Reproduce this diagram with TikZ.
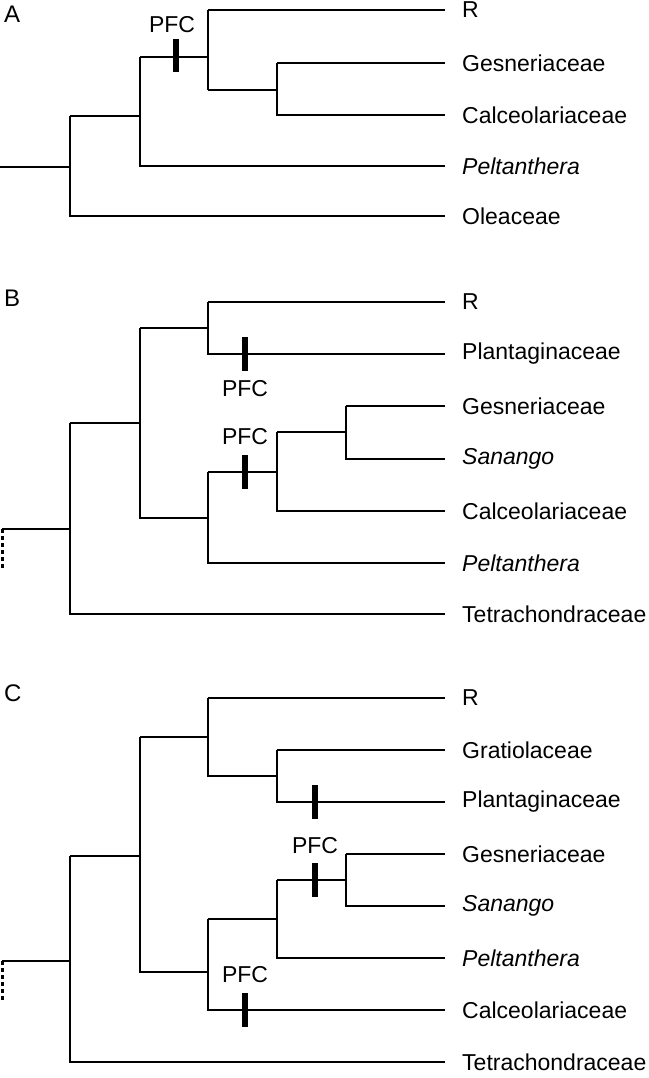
\documentclass[tikz,border=0pt]{standalone}
\usepackage{fontspec}
\setmainfont{Liberation Sans}
\begin{document}
\begin{tikzpicture}[x=1pt,y=-1pt,
  br/.style={line width=2pt},
  lab/.style={anchor=west,font=\fontsize{23}{25}\selectfont,inner sep=0pt},
  bar/.style={line width=6pt},
  pfc/.style={font=\fontsize{23}{25}\selectfont,inner sep=0pt},
  panel/.style={font=\fontsize{24}{26}\selectfont,anchor=north west,inner sep=0pt}]
\useasboundingbox (0,0) rectangle (648,1078);
% ---------- A
\node[panel] (pA) at (4,6) {A};
\foreach \n/\y/\t in {aR/10/R,aG/63/Gesneriaceae,aC/115/Calceolariaceae,aP/166/\textit{Peltanthera},aO/216/Oleaceae}
  \node[lab] (\n) at (462,\y) {\t};
\draw[br] (0,167)--(70,167);
\draw[br] (70,116)--(70,216)--(445,216);
\draw[br] (70,116)--(140,116);
\draw[br] (140,57)--(140,166)--(445,166);
\draw[br] (140,57)--(208,57);
\draw[br] (208,10)--(208,90);
\draw[br] (208,10)--(445,10);
\draw[br] (208,90)--(277,90);
\draw[br] (277,63)--(277,115)--(445,115);
\draw[br] (277,63)--(445,63);
\draw[bar] (176,39)--(176,72);
\node[pfc] (pfcA) at (172,25) {PFC};
% ---------- B
\node[panel] (pB) at (4,290) {B};
\foreach \n/\y/\t in {bR/302/R,bPl/354/Plantaginaceae,bG/406/Gesneriaceae,bS/459/\textit{Sanango},bC/511/Calceolariaceae,bP/563/\textit{Peltanthera},bT/614/Tetrachondraceae}
  \node[lab] (\n) at (462,\y) {\t};
\draw[br] (2,529)--(70,529);
\draw[line width=3pt,dash pattern=on 4pt off 3pt] (2.5,529)--(2.5,568);
\draw[br] (70,423)--(70,614)--(445,614);
\draw[br] (70,423)--(140,423);
\draw[br] (140,328)--(140,518)--(208,518);
\draw[br] (140,328)--(208,328);
\draw[br] (208,302)--(208,354)--(445,354);
\draw[br] (208,302)--(445,302);
\draw[br] (208,472)--(208,563)--(445,563);
\draw[br] (208,472)--(277,472);
\draw[br] (277,432)--(277,511)--(445,511);
\draw[br] (277,432)--(346,432);
\draw[br] (346,406)--(346,459)--(445,459);
\draw[br] (346,406)--(445,406);
\draw[bar] (245,337)--(245,371);
\node[pfc] (pfcB1) at (245,389) {PFC};
\draw[bar] (245,455)--(245,489);
\node[pfc] (pfcB2) at (245,437) {PFC};
% ---------- C
\node[panel] (pC) at (4,685) {C};
\foreach \n/\y/\t in {cR/698/R,cGr/750/Gratiolaceae,cPl/802/Plantaginaceae,cG/854/Gesneriaceae,cS/906/\textit{Sanango},cP/958/\textit{Peltanthera},cC/1010/Calceolariaceae,cT/1062/Tetrachondraceae}
  \node[lab] (\n) at (462,\y) {\t};
\draw[br] (2,961)--(70,961);
\draw[line width=3pt,dash pattern=on 4pt off 3pt] (2.5,961)--(2.5,1000);
\draw[br] (70,856)--(70,1062)--(445,1062);
\draw[br] (70,856)--(140,856);
\draw[br] (140,737)--(140,972)--(208,972);
\draw[br] (140,737)--(208,737);
\draw[br] (208,698)--(208,776)--(277,776);
\draw[br] (208,698)--(445,698);
\draw[br] (277,750)--(277,802)--(445,802);
\draw[br] (277,750)--(445,750);
\draw[br] (208,919)--(208,1010)--(445,1010);
\draw[br] (208,919)--(277,919);
\draw[br] (277,880)--(277,958)--(445,958);
\draw[br] (277,880)--(346,880);
\draw[br] (346,854)--(346,906)--(445,906);
\draw[br] (346,854)--(445,854);
\draw[bar] (315,785)--(315,819);
\draw[bar] (315,863)--(315,897);
\node[pfc] (pfcC1) at (315,846) {PFC};
\draw[bar] (245,993)--(245,1027);
\node[pfc] (pfcC2) at (245,975) {PFC};
\end{tikzpicture}
\end{document}
